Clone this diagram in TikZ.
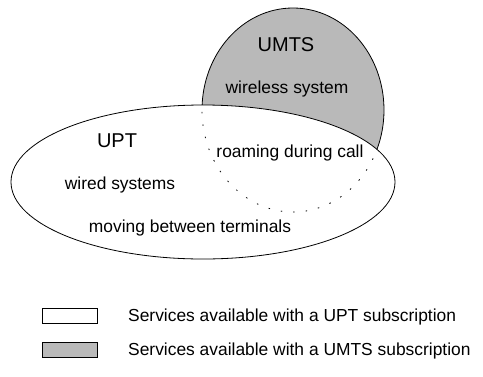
\documentclass[tikz,border=0pt]{standalone}
\usepackage{fontspec}
\setmainfont{Liberation Sans}
\usepackage{tikz}
\usetikzlibrary{positioning}

\begin{document}
\begin{tikzpicture}[x=1pt,y=-1pt,
  lbl/.style={font=\fontsize{17.4}{20}\selectfont,inner sep=0pt},
  ttl/.style={font=\fontsize{20}{24}\selectfont,inner sep=0pt},
  keybox/.style={draw,thick,minimum width=55pt,minimum height=15pt,inner sep=0pt}]
\useasboundingbox (0,0) rectangle (483,376);
\coordinate (umts) at (293,110);
\coordinate (upt) at (203,182);
\filldraw[thick,fill=gray!55] (umts) ellipse[x radius=91,y radius=102];
\filldraw[thick,fill=white] (upt) ellipse[x radius=192,y radius=77];
\begin{scope}
\clip (upt) ellipse[x radius=192,y radius=77];
\draw[thick,dash pattern=on 1.5pt off 11pt] (umts) ellipse[x radius=91,y radius=102];
\end{scope}
\node[ttl] (umtsname) at (286,45) {UMTS};
\node[lbl] (wireless) at (287,89) {wireless system};
\node[ttl] (uptname) at (117,141) {UPT};
\node[lbl] (roaming) at (290,153) {roaming during call};
\node[lbl] (wired) at (120,185) {wired systems};
\node[lbl] (moving) at (190,228) {moving between terminals};
\node[keybox] (keyupt) at (69.5,315.5) {};
\node[keybox,fill=gray!55] (keyumts) at (69.5,350) {};
\node[lbl,anchor=west] (textupt) at (128,317) {Services available with a UPT subscription};
\node[lbl,anchor=west] (textumts) at (128,351) {Services available with a UMTS subscription};
\end{tikzpicture}
\end{document}
